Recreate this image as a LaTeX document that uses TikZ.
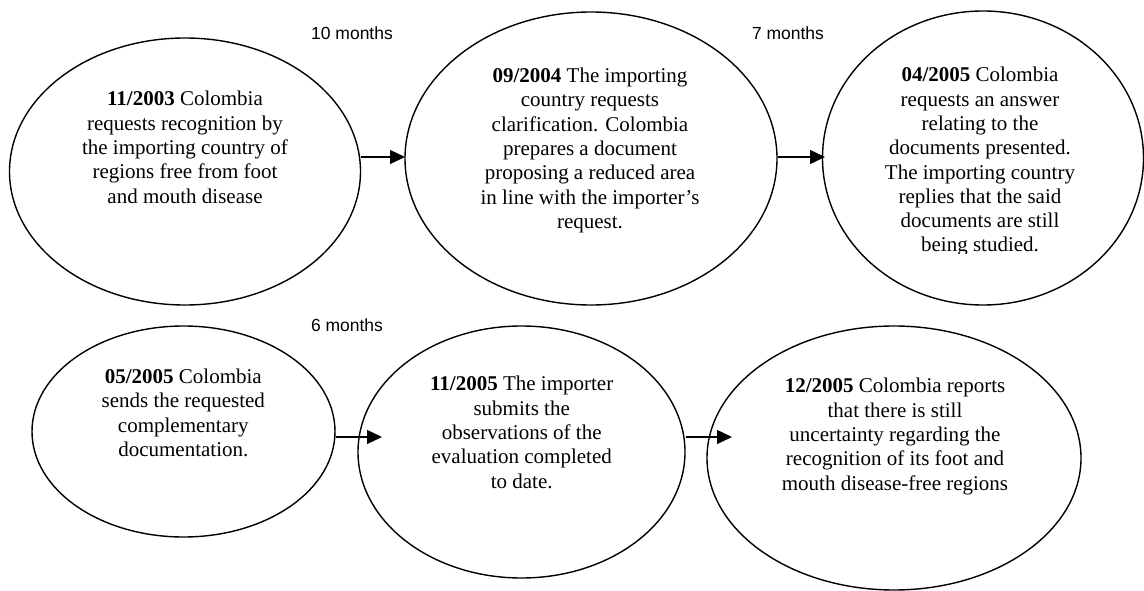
\documentclass[tikz,border=0pt]{standalone}
\usepackage{fontspec}
\setmainfont{Liberation Serif}
\newfontfamily\labelfont{Liberation Sans}
\usetikzlibrary{shapes.geometric,arrows.meta}
\begin{document}
\begin{tikzpicture}[x=1pt,y=-1pt,
  ell/.style={draw=black,line width=1.4pt,ellipse,inner sep=0pt,fill=white},
  txt/.style={align=center,inner sep=0pt,font=\fontsize{21}{24.3}\selectfont},
  mlabel/.style={inner sep=0pt,font=\labelfont\fontsize{17.5}{20}\selectfont},
  arr/.style={line width=1.4pt,-{Triangle[length=15pt,width=14pt]}}]
\useasboundingbox (0,0) rectangle (1144,591);
% top row
\node[ell,minimum width=351pt,minimum height=267pt] (e1) at (185,171.5) {};
\node[ell,minimum width=372pt,minimum height=293pt] (e2) at (591,158.5) {};
\node[ell,minimum width=321pt,minimum height=294pt] (e3) at (983,158) {};
% bottom row
\node[ell,minimum width=303pt,minimum height=211pt] (e4) at (183.5,431.5) {};
\node[ell,minimum width=327pt,minimum height=252pt] (e5) at (521.5,452) {};
\node[ell,minimum width=374pt,minimum height=264pt] (e6) at (894,458) {};
% texts
\node[txt] (t1) at (185,147.4) {\textbf{11/2003} Colombia\\requests recognition by\\the importing country of\\regions free from foot\\and mouth disease};
\node[txt] (t2) at (590,150.5) {\textbf{09/2004} The importing\\country requests\\clarification. Colombia\\prepares a document\\proposing a reduced area\\in line with the importer’s\\request.};
\begin{scope}
\clip (820,0) rectangle (1144,253);
\node[txt] (t3) at (980,161.9) {\textbf{04/2005} Colombia\\requests an answer\\relating to the\\documents presented.\\The importing country\\replies that the said\\documents are still\\being studied.};
\end{scope}
\node[txt] (t4) at (183.3,412.8) {\textbf{05/2005} Colombia\\sends the requested\\complementary\\documentation.};
\node[txt] (t5) at (521.7,432.4) {\textbf{11/2005} The importer\\submits the\\observations of the\\evaluation completed\\to date.};
\node[txt] (t6) at (895,436.5) {\textbf{12/2005} Colombia reports\\that there is still\\uncertainty regarding the\\recognition of its foot and\\mouth disease-free regions};
% month labels
\node[mlabel] (m1) at (352,33) {10 months};
\node[mlabel] (m2) at (788,33) {7 months};
\node[mlabel] (m3) at (347,325) {6 months};
% connectors
\coordinate (a1) at (405,157);
\coordinate (a2) at (825,157);
\coordinate (a3) at (382,437);
\coordinate (a4) at (732,437);
\draw[arr] (e1.east |- a1) -- (a1);
\draw[arr] (e2.east |- a2) -- (a2);
\draw[arr] (e4.east |- a3) -- (a3);
\draw[arr] (e5.east |- a4) -- (a4);
\end{tikzpicture}
\end{document}
